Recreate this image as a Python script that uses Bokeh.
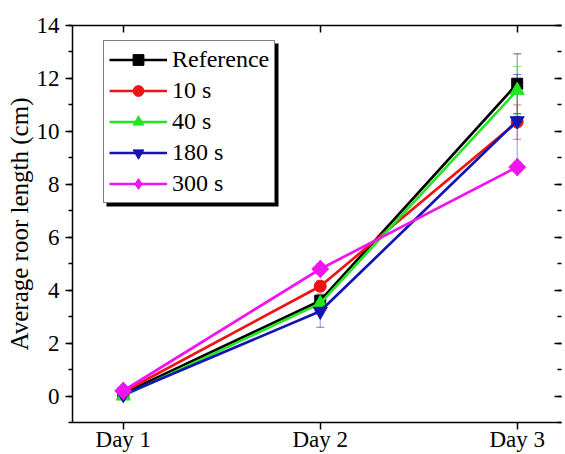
from bokeh.plotting import figure
from bokeh.models import (Range1d, LinearAxis, FixedTicker, SingleIntervalTicker, Legend,
                          LegendItem, Whisker, ColumnDataSource, BoxAnnotation, TeeHead,
                          CustomLabelingPolicy)
from bokeh.embed import file_html
from bokeh.resources import INLINE

# ---- data ----
days = ["Day 1", "Day 2", "Day 3"]
series_names = ["Reference", "10 s", "40 s", "180 s", "300 s"]
reference = [0.10, 3.60, 11.80]
s10 = [0.15, 4.15, 10.35]
s40 = [0.00, 3.50, 11.55]
s180 = [0.05, 3.20, 10.40]
s300 = [0.20, 4.80, 8.65]
err_reference = [0.05, 0.25, 1.13]
err_10 = [0.05, 0.20, 0.65]
err_40 = [0.05, 0.20, 0.90]
err_180 = [0.05, 0.60, 1.75]
err_300 = [0.05, 0.20, 0.20]

values = [reference, s10, s40, s180, s300]
errors = [err_reference, err_10, err_40, err_180, err_300]
colors = ["#000000", "#ee1414", "#22e622", "#1414b4", "#f014f0"]
markers = ["square", "circle", "triangle", "inverted_triangle", "square"]
msizes = [11, 12, 14, 14, 12]
angles = [0, 0, 0, 0, 45]

FONT = "Liberation Serif"
xs = list(range(1, len(days) + 1))

p = figure(width=565, height=454, output_backend="svg", toolbar_location=None,
           x_range=Range1d(0.742, 3.225), y_range=Range1d(-1, 14),
           min_border_left=72, min_border_top=25, min_border_right=0, min_border_bottom=0)
p.grid.visible = False
p.outline_line_color = None
p.background_fill_color = "white"
p.border_fill_color = "white"

# left axis
ya = p.yaxis[0]
ya.ticker = SingleIntervalTicker(interval=2, num_minor_ticks=2)
ya.axis_label = "Average roor length (cm)"
ya.axis_label_text_font = FONT
ya.axis_label_text_font_style = "normal"
ya.axis_label_text_font_size = "25px"
ya.axis_label_text_color = "black"
ya.axis_label_standoff = 1
ya.major_label_text_font = FONT
ya.major_label_text_font_size = "23px"
ya.major_label_text_color = "black"
ya.major_label_standoff = 6
ya.major_tick_in = 0
ya.major_tick_out = 7
ya.minor_tick_in = 0
ya.minor_tick_out = 4
ya.axis_line_width = 1.5
ya.major_tick_line_width = 1.5
ya.minor_tick_line_width = 1.5

# bottom axis
xa = p.xaxis[0]
xa.ticker = FixedTicker(ticks=xs)
xa.major_label_overrides = {x: d for x, d in zip(xs, days)}
xa.major_label_text_font = FONT
xa.major_label_text_font_size = "23px"
xa.major_label_text_color = "black"
xa.major_label_standoff = -3
xa.major_tick_in = 0
xa.major_tick_out = 7
xa.axis_line_width = 1.5
xa.major_tick_line_width = 1.5

# top axis (frame line with inward ticks, no labels)
top = LinearAxis(ticker=FixedTicker(ticks=xs), major_tick_in=7, major_tick_out=0,
                 major_label_text_font_size="1px", major_label_standoff=0,
                 major_label_policy=CustomLabelingPolicy(code="return []"),
                 axis_line_width=1.5, major_tick_line_width=1.5)
p.add_layout(top, "above")

# right axis (inward ticks only; its line lies at the cropped edge)
right = LinearAxis(ticker=SingleIntervalTicker(interval=2, num_minor_ticks=2),
                   axis_line_color=None, major_tick_in=7, major_tick_out=0,
                   minor_tick_in=4, minor_tick_out=0, major_label_text_font_size="1px",
                   major_label_standoff=0, major_label_policy=CustomLabelingPolicy(code="return []"),
                   major_tick_line_width=1.5, minor_tick_line_width=1.5)
p.add_layout(right, "right")

items = []
for name, vals, errs, col, mk, ms, ang in zip(series_names, values, errors, colors, markers, msizes, angles):
    src = ColumnDataSource(dict(x=xs, y=vals,
                                upper=[v + e for v, e in zip(vals, errs)],
                                lower=[v - e for v, e in zip(vals, errs)]))
    w = Whisker(source=src, base="x", upper="upper", lower="lower",
                line_color=col, line_alpha=0.45, line_width=1,
                upper_head=TeeHead(size=8, line_color=col, line_alpha=0.6, line_width=1),
                lower_head=TeeHead(size=8, line_color=col, line_alpha=0.6, line_width=1))
    p.add_layout(w)
    lr = p.line("x", "y", source=src, line_color=col, line_width=2.7)
    rends = [lr]
    if ang:
        # plain diamond underneath (hidden by the rotated square) used as the legend symbol
        dr = p.scatter("x", "y", source=src, marker="diamond", size=ms * 1.45, fill_color=col,
                       line_color=col)
        rends.append(dr)
    sr = p.scatter("x", "y", source=src, marker=mk, size=ms, fill_color=col, line_color=col,
                   angle=ang, angle_units="deg")
    if not ang:
        rends.append(sr)
    items.append(LegendItem(label=name, renderers=rends))

LEG_X, LEG_Y, LEG_W, LEG_H = 31, 219, 172, 163
shadow = BoxAnnotation(left=LEG_X + 3, right=LEG_X + 3 + LEG_W, bottom=LEG_Y - 3, top=LEG_Y - 3 + LEG_H,
                       left_units="screen", right_units="screen", bottom_units="screen", top_units="screen",
                       fill_color="black", fill_alpha=1, line_color=None)
p.add_layout(shadow)

legend = Legend(items=items, location=(LEG_X, LEG_Y), padding=5, spacing=4, margin=0,
                glyph_width=58, glyph_height=27, label_height=27, label_standoff=5,
                label_text_font=FONT, label_text_font_size="24px", label_text_color="black",
                border_line_color="black", border_line_width=1.5,
                background_fill_color="white", background_fill_alpha=1)
p.add_layout(legend)

open("out.html", "w").write(file_html(p, INLINE))
